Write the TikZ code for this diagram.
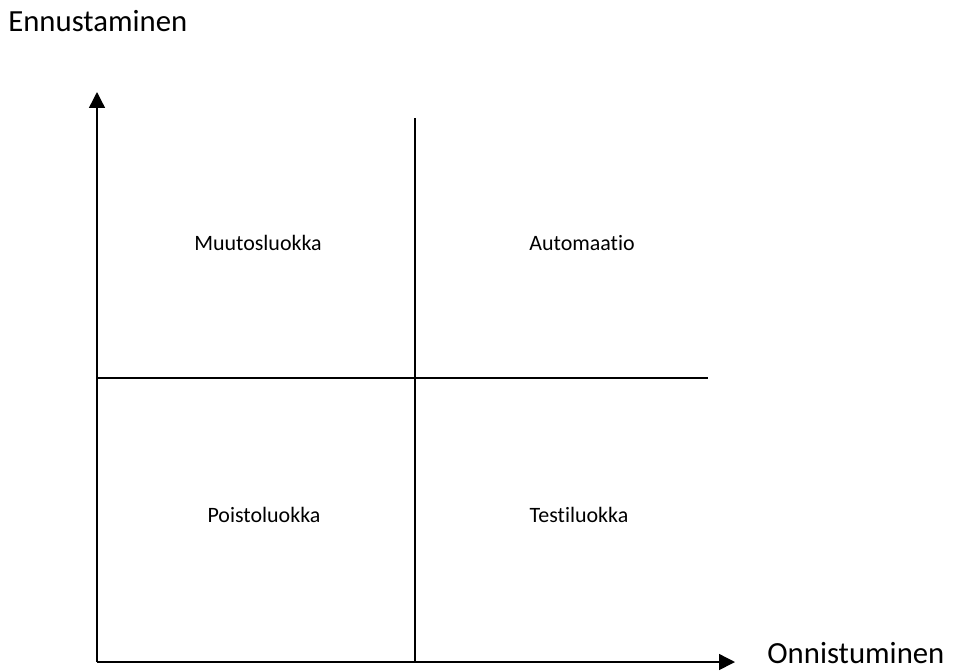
\documentclass[tikz,border=0pt]{standalone}
\usepackage{fontspec}
\setmainfont[Ligatures=NoCommon]{Carlito}
\usepackage{tikz}
\usetikzlibrary{arrows.meta,positioning}

\tikzset{
	axis/.style={thick, -{Triangle[width=9pt,length=9pt]}},
	divider/.style={thick},
	quadlabel/.style={font=\fontsize{12.5}{15}\selectfont},
	axislabel/.style={font=\fontsize{17.5}{21}\selectfont, inner sep=0pt, text depth=0pt}
}

\begin{document}
\begin{tikzpicture}[x=0.02cm, y=-0.02cm]
	\useasboundingbox (0,0) rectangle (955,670);

	% axes
	\coordinate (origin) at (97,662);
	\coordinate (ytip) at (97,92);
	\coordinate (xtip) at (735,662);
	\draw[axis] (origin) -- (ytip);
	\draw[axis] (origin) -- (xtip);

	% the two dividing lines
	\coordinate (vtop) at (415,118);
	\coordinate (vbot) at (415,662);
	\coordinate (hleft) at (97,378);
	\coordinate (hright) at (708,378);
	\draw[divider] (vtop) -- (vbot);
	\draw[divider] (hleft) -- (hright);

	% axis names
	\node[axislabel, anchor=base west] (yname) at (8,31) {Ennustaminen};
	\node[axislabel, anchor=base west] (xname) at (767,663) {Onnistuminen};

	% quadrants
	\node[quadlabel] (muutos) at (258,243) {Muutosluokka};
	\node[quadlabel] (auto) at (582,243) {Automaatio};
	\node[quadlabel] (poisto) at (264,515) {Poistoluokka};
	\node[quadlabel] (testi) at (579,515) {Testiluokka};
\end{tikzpicture}
\end{document}
